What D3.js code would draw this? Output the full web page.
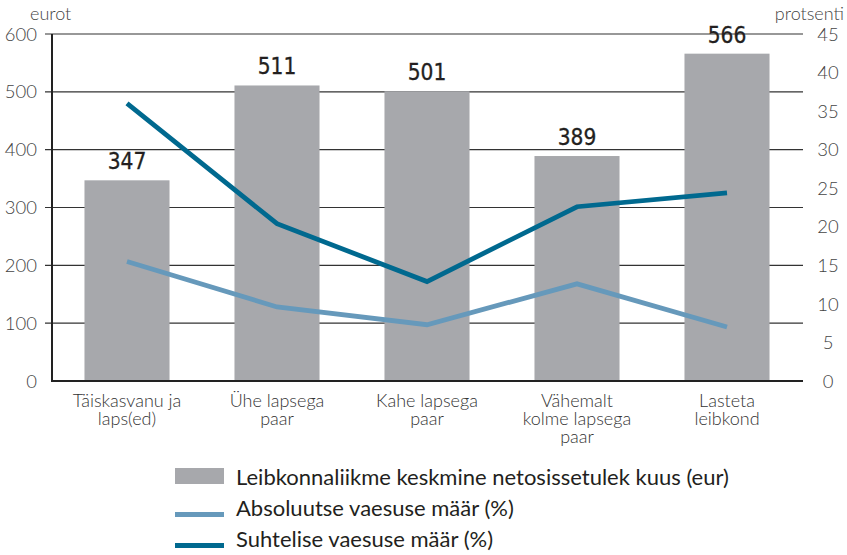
<!DOCTYPE html>
<html>
<head>
<meta charset="utf-8">
<script src="https://cdn.jsdelivr.net/npm/d3@7/dist/d3.min.js"></script>
<style>
  html, body { margin: 0; padding: 0; background: #fff; }
  svg { display: block; }
  text { font-family: Lato, "Open Sans", sans-serif; }
</style>
</head>
<body>
<svg id="chart" width="847" height="555"></svg>
<script>
// ---- data ----
const categories = [
  ["Täiskasvanu ja", "laps(ed)"],
  ["Ühe lapsega", "paar"],
  ["Kahe lapsega", "paar"],
  ["Vähemalt", "kolme lapsega", "paar"],
  ["Lasteta", "leibkond"]
];
const incomeValues = [347, 511, 501, 389, 566];
const absolutePoverty = [15.5, 9.6, 7.3, 12.6, 7.0];
const relativePoverty = [36.0, 20.4, 12.9, 22.6, 24.4];
const leftTicks = [0, 100, 200, 300, 400, 500, 600];
const rightTicks = [0, 5, 10, 15, 20, 25, 30, 35, 40, 45];
const legendLabels = [
  "Leibkonnaliikme keskmine netosissetulek kuus (eur)",
  "Absoluutse vaesuse määr (%)",
  "Suhtelise vaesuse määr (%)"
];
const leftTitle = "eurot";
const rightTitle = "protsenti";

// ---- style ----
const colBar = "#a7a8ac";
const colAbs = "#6699bb";
const colRel = "#00698f";
const colText = "#231f20";

const svg = d3.select("#chart");
const plot = { left: 52, right: 802, top: 34, bottom: 381 };

const x = d3.scaleBand()
  .domain(d3.range(categories.length))
  .range([plot.left, plot.right])
  .paddingInner(0.433)
  .paddingOuter(0.2165);
const yL = d3.scaleLinear().domain([0, 600]).range([plot.bottom, plot.top]);
const yR = d3.scaleLinear().domain([0, 45]).range([plot.bottom, plot.top]);

// gridlines + left ticks
svg.append("g").selectAll("line")
  .data(leftTicks.filter(d => d > 0))
  .join("line")
  .attr("x1", plot.left - 7)
  .attr("x2", plot.right + 1)
  .attr("y1", d => yL(d))
  .attr("y2", d => yL(d))
  .attr("stroke", "#333")
  .attr("stroke-width", 1.2);

// bars
svg.append("g").selectAll("rect")
  .data(incomeValues)
  .join("rect")
  .attr("x", (d, i) => x(i))
  .attr("width", x.bandwidth())
  .attr("y", d => yL(d))
  .attr("height", d => yL(0) - yL(d))
  .attr("fill", colBar);

// axis lines
svg.append("line")
  .attr("x1", plot.left).attr("x2", plot.left)
  .attr("y1", plot.top).attr("y2", plot.bottom + 1)
  .attr("stroke", "#222").attr("stroke-width", 2);
svg.append("line")
  .attr("x1", plot.left - 1).attr("x2", plot.right + 1)
  .attr("y1", plot.bottom).attr("y2", plot.bottom)
  .attr("stroke", "#222").attr("stroke-width", 2);

// lines
const lineGen = scale => d3.line()
  .x((d, i) => x(i) + x.bandwidth() / 2)
  .y(d => scale(d));
svg.append("path")
  .datum(absolutePoverty)
  .attr("d", lineGen(yR))
  .attr("fill", "none")
  .attr("stroke", colAbs)
  .attr("stroke-width", 4.8);
svg.append("path")
  .datum(relativePoverty)
  .attr("d", lineGen(yR))
  .attr("fill", "none")
  .attr("stroke", colRel)
  .attr("stroke-width", 4.8);

// bar value labels
svg.append("g").selectAll("text")
  .data(incomeValues)
  .join("text")
  .attr("x", (d, i) => x(i) + x.bandwidth() / 2)
  .attr("y", d => yL(d) - 11)
  .attr("text-anchor", "middle")
  .attr("fill", colText)
  .style("font-family", "'Liberation Sans Narrow', 'DejaVu Sans Condensed', Lato, sans-serif")
  .style("font-size", "22.5px")
  .style("stroke", colText)
  .style("stroke-width", 0.3)
  .text(d => d);

// left tick labels
svg.append("g").selectAll("text")
  .data(leftTicks)
  .join("text")
  .attr("x", 37)
  .attr("y", d => yL(d))
  .attr("dy", "0.36em")
  .attr("text-anchor", "end")
  .attr("fill", "#444")
  .style("font-size", "18.5px")
  .style("font-weight", 300)
  .text(d => d);

// right tick labels
svg.append("g").selectAll("text")
  .data(rightTicks)
  .join("text")
  .attr("x", 828)
  .attr("y", d => yR(d))
  .attr("dy", "0.36em")
  .attr("text-anchor", "middle")
  .attr("fill", "#444")
  .style("font-size", "18.5px")
  .style("font-weight", 300)
  .text(d => d);

// axis titles
svg.append("text")
  .attr("x", 30).attr("y", 20)
  .attr("fill", "#444")
  .style("font-size", "18px").style("font-weight", 300)
  .text(leftTitle);
svg.append("text")
  .attr("x", 844).attr("y", 20)
  .attr("text-anchor", "end")
  .attr("fill", "#444")
  .style("font-size", "18px").style("font-weight", 300)
  .text(rightTitle);

// category labels
const cat = svg.append("g").selectAll("text")
  .data(categories)
  .join("text")
  .attr("x", (d, i) => x(i) + x.bandwidth() / 2)
  .attr("y", 407)
  .attr("text-anchor", "middle")
  .attr("fill", "#333")
  .style("font-size", "18px")
  .style("font-weight", 300);
cat.selectAll("tspan")
  .data(d => d)
  .join("tspan")
  .attr("x", function() { return this.parentNode.getAttribute("x"); })
  .attr("dy", (d, i) => i === 0 ? 0 : 18)
  .text(d => d);

// legend
const legend = svg.append("g");
const rowY = [485, 516, 547];
legend.append("rect")
  .attr("x", 175).attr("y", 468).attr("width", 49).attr("height", 16)
  .attr("fill", colBar);
legend.append("rect")
  .attr("x", 175).attr("y", 512).attr("width", 49).attr("height", 5)
  .attr("fill", colAbs);
legend.append("rect")
  .attr("x", 175).attr("y", 543).attr("width", 49).attr("height", 5)
  .attr("fill", colRel);
legend.selectAll("text")
  .data(legendLabels)
  .join("text")
  .attr("x", 236)
  .attr("y", (d, i) => rowY[i])
  .attr("fill", colText)
  .style("font-size", "22px")
  .style("font-weight", 400)
  .text(d => d);
</script>
</body>
</html>
